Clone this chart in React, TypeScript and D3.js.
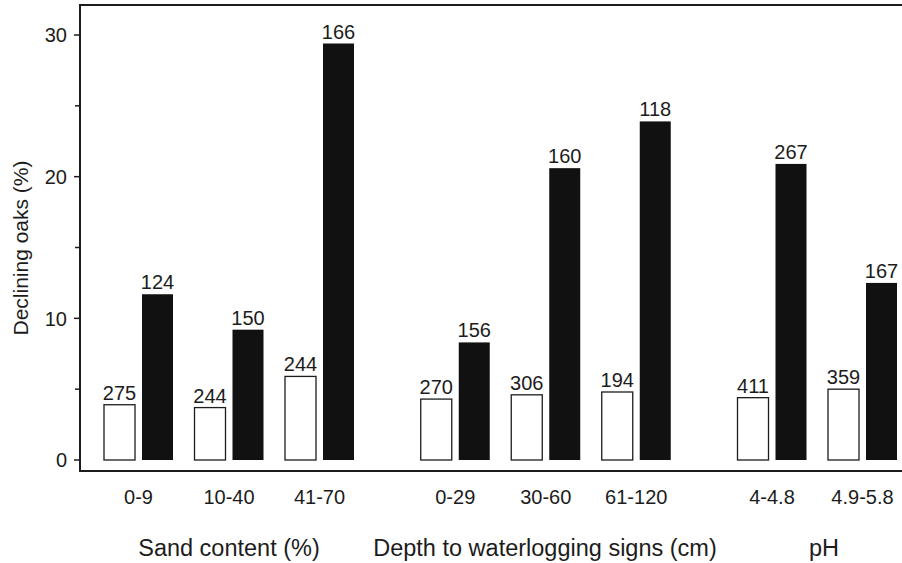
import { useEffect, useRef } from 'react'
import * as d3 from 'd3'

// categories and values
const groups = ['Sand content (%)', 'Depth to waterlogging signs (cm)', 'pH']
const classes = ['0-9', '10-40', '41-70', '0-29', '30-60', '61-120', '4-4.8', '4.9-5.8']
const classGroup = [0, 0, 0, 1, 1, 1, 2, 2]
const healthyValues = [3.9, 3.7, 5.9, 4.3, 4.6, 4.8, 4.4, 5.0]
const healthyN = [275, 244, 244, 270, 306, 194, 411, 359]
const decliningValues = [11.7, 9.2, 29.4, 8.3, 20.6, 23.9, 20.9, 12.5]
const decliningN = [124, 150, 166, 156, 160, 118, 267, 167]
const yTicks = [0, 10, 20, 30]
const yMinorTicks = [5, 15, 25]

const W = 902
const H = 563
const FONT = '"Liberation Sans", Arial, Helvetica, sans-serif'
const INK = '#1c1c1c'

export default function App() {
  const svgRef = useRef<SVGSVGElement>(null)

  useEffect(() => {
    if (!svgRef.current) return
    const svg = d3.select(svgRef.current)
    svg.selectAll('*').remove()

    const left = 80
    const top = 5
    const bottom = 471

    const y = d3.scaleLinear().domain([0, 30]).range([460, 35])

    // slot position: one step per class, an extra gap between groups
    const groupGap = 0.5
    const slots = classes.map((_, i) => i + classGroup[i] * groupGap)
    const x = d3.scaleLinear().domain([0, d3.max(slots)!]).range([104, 828])
    const barW = 31
    const inner = 7

    // frame (right side runs off the picture)
    svg.append('path')
      .attr('d', `M${W + 10},${top}H${left}V${bottom}H${W + 10}`)
      .attr('fill', 'none')
      .attr('stroke', INK)
      .attr('stroke-width', 2)

    // y axis ticks
    const g = svg.append('g').attr('font-family', FONT).attr('fill', INK)
    yTicks.forEach(t => {
      g.append('line')
        .attr('x1', left - 6).attr('x2', left)
        .attr('y1', y(t)).attr('y2', y(t))
        .attr('stroke', INK).attr('stroke-width', 1.5)
      g.append('text')
        .attr('x', left - 13).attr('y', y(t))
        .attr('dy', '0.36em')
        .attr('text-anchor', 'end')
        .attr('font-size', 20)
        .text(t)
    })
    yMinorTicks.forEach(t => {
      g.append('line')
        .attr('x1', left - 5).attr('x2', left)
        .attr('y1', y(t)).attr('y2', y(t))
        .attr('stroke', INK).attr('stroke-width', 1.5)
    })

    g.append('text')
      .attr('transform', `translate(28,${248}) rotate(-90)`)
      .attr('text-anchor', 'middle')
      .attr('font-size', 21)
      .text('Declining oaks (%)')

    // bars
    classes.forEach((c, i) => {
      const x0 = x(slots[i])
      const x1 = x0 + barW + inner
      g.append('rect')
        .attr('x', x0).attr('y', y(healthyValues[i]))
        .attr('width', barW).attr('height', y(0) - y(healthyValues[i]))
        .attr('fill', '#fff').attr('stroke', INK).attr('stroke-width', 1.3)
      g.append('rect')
        .attr('x', x1).attr('y', y(decliningValues[i]))
        .attr('width', barW).attr('height', y(0) - y(decliningValues[i]))
        .attr('fill', '#111')
      g.append('text')
        .attr('x', x0 + barW / 2).attr('y', y(healthyValues[i]) - 5)
        .attr('text-anchor', 'middle').attr('font-size', 20)
        .text(healthyN[i])
      g.append('text')
        .attr('x', x1 + barW / 2).attr('y', y(decliningValues[i]) - 5)
        .attr('text-anchor', 'middle').attr('font-size', 20)
        .text(decliningN[i])
      g.append('text')
        .attr('x', x0 + barW + inner / 2).attr('y', 504)
        .attr('text-anchor', 'middle').attr('font-size', 20)
        .text(c)
    })

    // group titles
    const groupCentres = [229, 545, 824]
    groups.forEach((name, gi) => {
      g.append('text')
        .attr('x', groupCentres[gi]).attr('y', 556)
        .attr('text-anchor', 'middle').attr('font-size', 23.5)
        .text(name)
    })
  }, [])

  return (
    <svg
      ref={svgRef}
      width={W}
      height={H}
      style={{ position: 'absolute', left: 0, top: 0, background: '#fff', display: 'block' }}
    />
  )
}
